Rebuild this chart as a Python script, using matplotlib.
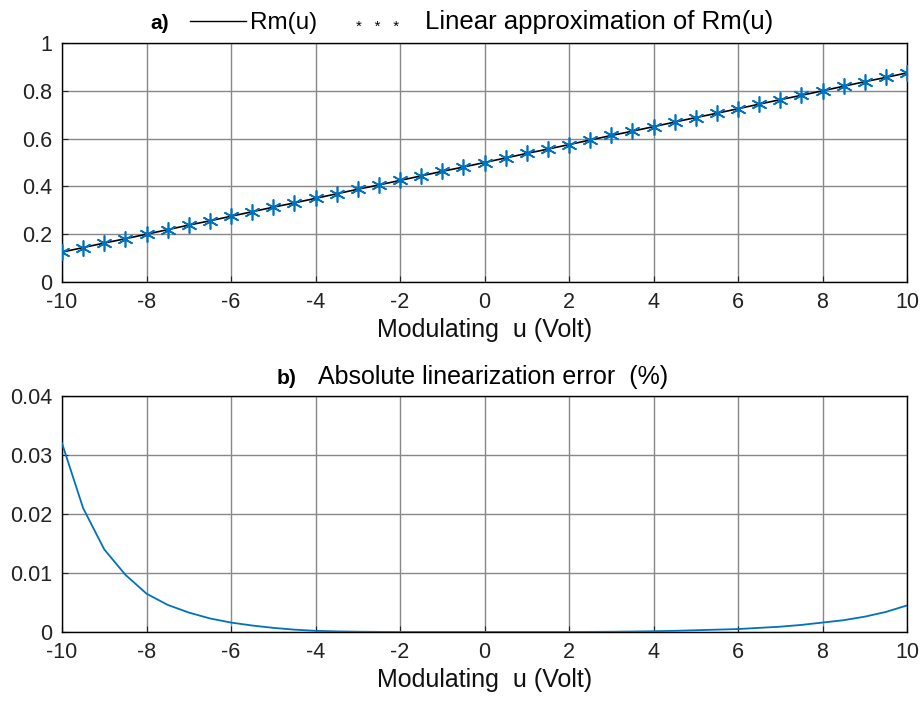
import matplotlib
matplotlib.use("Agg")
import matplotlib.pyplot as plt
import numpy as np

plt.rcParams['font.family'] = ['Liberation Sans', 'DejaVu Sans']
plt.rcParams['axes.unicode_minus'] = False

# modulating voltage samples (Volt)
u = [-10, -9.5, -9, -8.5, -8, -7.5, -7, -6.5, -6, -5.5, -5, -4.5, -4, -3.5, -3, -2.5, -2, -1.5, -1, -0.5,
     0, 0.5, 1, 1.5, 2, 2.5, 3, 3.5, 4, 4.5, 5, 5.5, 6, 6.5, 7, 7.5, 8, 8.5, 9, 9.5, 10]

rm = [0.125, 0.144, 0.163, 0.181, 0.200, 0.219, 0.238, 0.256, 0.275, 0.294, 0.313, 0.331, 0.350, 0.369,
      0.388, 0.406, 0.425, 0.444, 0.463, 0.481, 0.500, 0.519, 0.538, 0.556, 0.575, 0.594, 0.613, 0.631,
      0.650, 0.669, 0.688, 0.706, 0.725, 0.744, 0.763, 0.781, 0.800, 0.819, 0.838, 0.856, 0.875]

rm_lin = [0.125, 0.144, 0.163, 0.181, 0.200, 0.219, 0.238, 0.256, 0.275, 0.294, 0.313, 0.331, 0.350, 0.369,
          0.388, 0.406, 0.425, 0.444, 0.463, 0.481, 0.500, 0.519, 0.538, 0.556, 0.575, 0.594, 0.613, 0.631,
          0.650, 0.669, 0.688, 0.706, 0.725, 0.744, 0.763, 0.781, 0.800, 0.819, 0.838, 0.856, 0.875]

err = [0.0320, 0.0210, 0.0140, 0.0097, 0.0065, 0.0046, 0.0033, 0.0023, 0.0016, 0.0011, 0.0007, 0.0004,
       0.0002, 0.0001, 0.00005, 0.00002, 0.0, 0.0, 0.0, 0.0, 0.0, 0.0, 0.0, 0.0, 0.0, 0.00002, 0.00004,
       0.00008, 0.00013, 0.0002, 0.0003, 0.0004, 0.0005, 0.0007, 0.0009, 0.0012, 0.0016, 0.0020, 0.0026,
       0.0034, 0.0045]

xticks = [-10, -8, -6, -4, -2, 0, 2, 4, 6, 8, 10]
yticks_a = [0, 0.2, 0.4, 0.6, 0.8, 1]
yticks_b = [0, 0.01, 0.02, 0.03, 0.04]

blue = '#0072BD'
W, H = 922, 703


def px(x, y):
    return x / W, 1 - y / H


fig = plt.figure(figsize=(9.22, 7.03), dpi=100)
ax1 = fig.add_axes([62 / W, 1 - 282 / H, 845 / W, 239 / H])
ax2 = fig.add_axes([62 / W, 1 - 632 / H, 845 / W, 236 / H])

ax1.plot(u, rm, color='black', lw=1.2, zorder=3)
ax1.plot(u, rm_lin, ls='none', marker=(6, 2, 0), ms=11.5, mew=1.2, color=blue, zorder=4)
ax1.set_ylim(0, 1)
ax1.set_yticks(yticks_a)
ax1.set_yticklabels(['0', '0.2', '0.4', '0.6', '0.8', '1'])

ax2.plot(u, err, color=blue, lw=1.3, zorder=3)
ax2.set_ylim(0, 0.04)
ax2.set_yticks(yticks_b)
ax2.set_yticklabels(['0', '0.01', '0.02', '0.03', '0.04'])

for ax in (ax1, ax2):
    ax.set_xlim(-10, 10)
    ax.set_xticks(xticks)
    ax.grid(True, color='#888888', lw=1.0)
    ax.set_axisbelow(True)
    ax.tick_params(direction='in', length=4, labelsize=15.5, colors='#222222', pad=7)
    for s in ax.spines.values():
        s.set_color('black')
        s.set_linewidth(1.0)
    ax.set_xlabel('Modulating  u (Volt)', fontsize=18, labelpad=4, color='#111111')

# title of plot a), drawn like an inline legend
fig.text(*px(169, 29), 'a)', fontsize=15, fontweight='bold', ha='right', va='baseline')
fig.add_artist(plt.Line2D([190 / W, 246 / W], [1 - 21 / H, 1 - 21 / H], color='black', lw=1.0))
fig.text(*px(250, 29), 'Rm(u)', fontsize=17.5, ha='left', va='baseline')
fig.text(*px(356, 31), '*   *   *', fontsize=11, ha='left', va='baseline')
fig.text(*px(425, 29), 'Linear approximation of Rm(u)', fontsize=18.5, ha='left', va='baseline')

fig.text(*px(296, 384), 'b)', fontsize=15, fontweight='bold', ha='right', va='baseline')
fig.text(*px(318, 384), 'Absolute linearization error  (%)', fontsize=18, ha='left', va='baseline')

fig.savefig('out.png', dpi=100)
